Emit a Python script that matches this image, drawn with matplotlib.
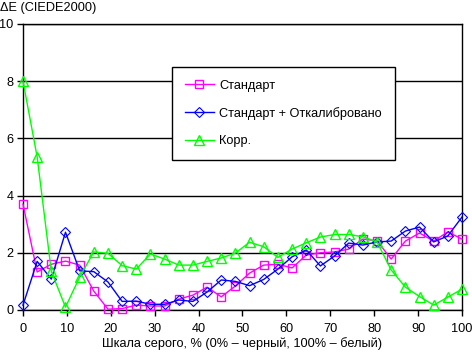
import matplotlib
matplotlib.use('Agg')
import matplotlib.pyplot as plt
import numpy as np

plt.rcParams['font.family'] = ['Liberation Sans', 'DejaVu Sans']

# gray scale steps, 32 points from 0 to 100 %
x = np.linspace(0, 100, 32)

standard = [3.70, 1.33, 1.60, 1.71, 1.57, 0.66, 0.03, 0.05, 0.17, 0.14, 0.14, 0.38,
            0.52, 0.80, 0.46, 0.84, 1.29, 1.57, 1.60, 1.47, 1.92, 2.00, 2.03, 2.13,
            2.48, 2.42, 1.78, 2.41, 2.69, 2.41, 2.73, 2.48]
calibrated = [0.17, 1.70, 1.08, 2.72, 1.37, 1.34, 0.98, 0.30, 0.31, 0.20, 0.20, 0.35,
              0.30, 0.63, 1.05, 1.00, 0.85, 1.07, 1.43, 1.86, 2.10, 1.54, 1.89, 2.34,
              2.27, 2.38, 2.41, 2.76, 2.90, 2.38, 2.59, 3.25]
corr = [8.00, 5.35, 1.35, 0.10, 1.15, 2.03, 1.98, 1.55, 1.43, 1.96, 1.78, 1.57,
        1.57, 1.70, 1.82, 1.99, 2.37, 2.21, 1.84, 2.13, 2.35, 2.55, 2.64, 2.64,
        2.56, 2.38, 1.40, 0.80, 0.47, 0.17, 0.45, 0.73]

labels = ['Стандарт', 'Стандарт + Откалибровано', 'Корр.']

fig = plt.figure(figsize=(4.72, 3.53), dpi=100)
ax = fig.add_axes([23/472, 1 - 310/353, 439/472, 286/353])

ax.plot(x, standard, color='#FF00FF', lw=1, marker='s', ms=6,
        mfc='none', mec='#FF00FF', mew=1, label=labels[0], zorder=3, clip_on=False)
ax.plot(x, calibrated, color='#0000FF', lw=1, marker='D', ms=5.5,
        mfc='none', mec='#0000FF', mew=0.8, label=labels[1], zorder=3, clip_on=False)
ax.plot(x, corr, color='#00FF00', lw=1, marker='^', ms=7,
        mfc='none', mec='#00FF00', mew=1, label=labels[2], zorder=3, clip_on=False)

ax.set_xlim(0, 100)
ax.set_ylim(0, 10)
ax.set_xticks(np.arange(0, 101, 10))
ax.set_yticks(np.arange(0, 11, 2))
ax.tick_params(labelsize=9.2, length=4, width=1, color='black')
ax.tick_params(axis='y', pad=3)
ax.tick_params(axis='x', pad=5)
ax.yaxis.grid(True, color='black', lw=1, zorder=0)
for s in ax.spines.values():
    s.set_linewidth(1)
    s.set_color('black')

ax.set_xlabel('Шкала серого, % (0% – черный, 100% – белый)', fontsize=9.2, labelpad=2)
fig.text(0, 1 - 8/353, 'ΔE (CIEDE2000)', fontsize=9.2, va='center', ha='left')

leg = ax.legend(loc='upper left', bbox_to_anchor=(0.339, 0.85), fontsize=9.2,
                frameon=True, fancybox=False, edgecolor='black', framealpha=1,
                handlelength=2.3, labelspacing=1.2, borderpad=1.0, handletextpad=0.4,
                borderaxespad=0)
leg.get_frame().set_linewidth(1)

fig.savefig('out.png', dpi=100)
